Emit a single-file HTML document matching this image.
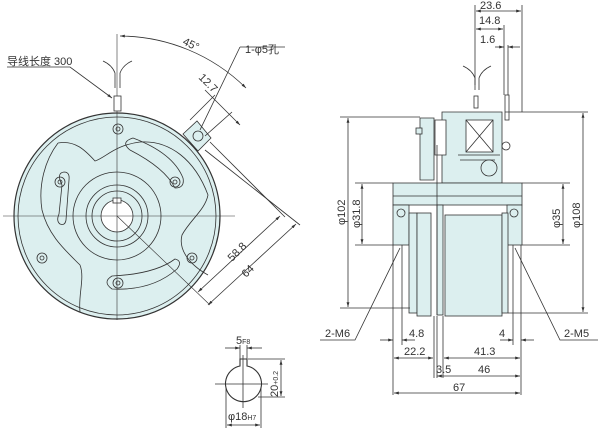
<!DOCTYPE html>
<html><head><meta charset="utf-8"><style>
html,body{margin:0;padding:0;background:#fff;}
svg{display:block;}
text{font-family:"Liberation Sans","Noto Sans CJK SC",sans-serif;fill:#333;font-size:11px;}
</style></head><body>
<svg width="600" height="432" viewBox="0 0 600 432" xmlns="http://www.w3.org/2000/svg">
<defs>
<marker id="a" viewBox="0 0 10 10" refX="10" refY="5" markerWidth="6" markerHeight="6" orient="auto-start-reverse"><path d="M0,2 L10,5 L0,8z" fill="#333"/></marker>
</defs>
<g stroke="#333" stroke-width="0.8" fill="none">
<!-- LEFT VIEW -->
<path d="M183,134 L197,121 L211,138 L198,151z" fill="#dcefef"/>
<circle cx="117" cy="216" r="103" fill="#dcefef" stroke-width="1.2"/>
<circle cx="117" cy="216" r="99"/>
<circle cx="198" cy="136" r="5" fill="#dcefef"/>
<path d="M58,143 C75,140 85,150 95,161 C105,158 115,145 140,142 C170,140 195,160 208,195 C205,210 190,220 182,235 C178,250 190,265 208,275 M80,312 C78,295 85,278 80,265 C65,250 48,235 42,210 C38,185 45,160 58,143"/>
<circle cx="117" cy="216" r="44"/>
<circle cx="117" cy="216" r="31"/>
<circle cx="117" cy="216" r="25"/>
<circle cx="117" cy="216" r="16" fill="#fff"/>
<rect x="113" y="198" width="8" height="5" fill="#fff"/>
<path d="M62,185 q-6,-12 2,-13 q6,0 5,8 l-3,40 q-1,6 -6,4 q-4,-3 -1,-10z"/>
<path d="M112,276 q-10,6 0,13 q40,2 65,-20 q6,-8 -2,-10 q-20,15 -63,17z"/>
<path d="M130,150 q-10,-8 3,-12 q40,15 50,40 q2,10 -8,10 q-10,-20 -45,-38z"/>
<circle cx="118" cy="129" r="5"/><circle cx="118" cy="129" r="2"/>
<circle cx="60" cy="182" r="5"/><circle cx="60" cy="182" r="2"/>
<circle cx="175" cy="182" r="5"/><circle cx="175" cy="182" r="2"/>
<circle cx="42" cy="258" r="5"/><circle cx="42" cy="258" r="2"/>
<circle cx="192" cy="258" r="5"/><circle cx="192" cy="258" r="2"/>
<circle cx="118" cy="283" r="5"/><circle cx="118" cy="283" r="2"/>
<line x1="3" y1="216" x2="235" y2="216" stroke-width="0.6"/>
<line x1="117" y1="34" x2="117" y2="320" stroke-width="0.6"/>
<line x1="117" y1="216" x2="210" y2="305" stroke-width="0.6"/>
<rect x="114" y="96" width="7" height="15" fill="#fff"/>
<path d="M115,88 v-15 q-3,-8 -12,-12 M120,88 v-15 q3,-8 12,-12"/>
<path d="M7,67 H70 L112,98" marker-end="url(#a)"/>
<path d="M120,36 A181,181 0 0 1 246,88" marker-start="url(#a)" marker-end="url(#a)"/>
<path d="M240,47 H285 M240,47 L200,130"/>
<line x1="190" y1="120" x2="215" y2="95"/><line x1="205" y1="136" x2="232" y2="112"/>
<path d="M205,90 L240,125" marker-end="url(#a)"/>
<line x1="210" y1="142" x2="285" y2="217"/><line x1="205" y1="150" x2="300" y2="225"/>
<line x1="198" y1="292" x2="280" y2="216" marker-start="url(#a)" marker-end="url(#a)"/>
<line x1="208" y1="305" x2="296" y2="224" marker-start="url(#a)" marker-end="url(#a)"/>
<!-- RIGHT VIEW -->
<path d="M442,112 H502 V183 H442z" fill="#dcefef"/>
<path d="M420,118 H434 V180 H420z" fill="#dcefef"/>
<path d="M435,120 H446 V155 H435z" fill="#fff"/>
<rect x="466" y="120" width="27" height="32" fill="#fff"/>
<path d="M466,120 L493,152 M493,120 L466,152"/>
<path d="M458,155 H500 M460,160 H495"/>
<circle cx="489" cy="168" r="8" fill="#dcefef"/>
<circle cx="506" cy="146" r="4"/>
<rect x="393" y="183" width="129" height="22" fill="#dcefef"/>
<line x1="393" y1="196" x2="522" y2="196"/>
<rect x="393" y="205" width="16" height="40" fill="#dcefef"/>
<rect x="507" y="205" width="15" height="40" fill="#dcefef"/>
<rect x="409" y="213" width="8" height="100" fill="#dcefef"/>
<rect x="417" y="213" width="14" height="103" fill="#dcefef"/>
<rect x="437" y="205" width="6" height="110" fill="#dcefef"/>
<rect x="445" y="215" width="57" height="101" fill="#dcefef"/>
<rect x="502" y="213" width="6" height="100" fill="#dcefef"/>
<circle cx="401" cy="213" r="4"/><circle cx="514" cy="213" r="4"/>
<line x1="437" y1="145" x2="437" y2="315"/>
<rect x="416" y="128" width="6" height="6" fill="#dcefef"/>
<rect x="505" y="95" width="4" height="25" fill="#fff"/>
<rect x="474" y="96" width="4" height="12" fill="#fff"/>
<path d="M475,90 v-12 q-3,-8 -12,-12 M479,90 v-12 q3,-8 12,-12"/>
<line x1="475" y1="5" x2="475" y2="85"/><line x1="522" y1="5" x2="522" y2="112"/><line x1="504" y1="25" x2="504" y2="95"/><line x1="508" y1="45" x2="508" y2="95"/>
<line x1="476" y1="11" x2="521" y2="11" marker-start="url(#a)" marker-end="url(#a)"/>
<line x1="476" y1="29" x2="503" y2="29" marker-start="url(#a)" marker-end="url(#a)"/>
<line x1="495" y1="47" x2="504" y2="47" marker-end="url(#a)"/><line x1="508" y1="47" x2="520" y2="47" marker-start="url(#a)"/>
<line x1="340" y1="117" x2="420" y2="117"/><line x1="340" y1="308" x2="410" y2="308"/>
<line x1="348" y1="118" x2="348" y2="307" marker-start="url(#a)" marker-end="url(#a)"/>
<line x1="355" y1="183" x2="393" y2="183"/><line x1="355" y1="245" x2="393" y2="245"/>
<line x1="362" y1="184" x2="362" y2="244" marker-start="url(#a)" marker-end="url(#a)"/>
<line x1="522" y1="183" x2="570" y2="183"/><line x1="522" y1="245" x2="570" y2="245"/>
<line x1="563" y1="184" x2="563" y2="244" marker-start="url(#a)" marker-end="url(#a)"/>
<line x1="505" y1="112" x2="588" y2="112"/><line x1="508" y1="313" x2="588" y2="313"/>
<line x1="583" y1="113" x2="583" y2="312" marker-start="url(#a)" marker-end="url(#a)"/>
<path d="M320,340 H355 L400,248" /><path d="M598,340 H560 L515,248"/>
<line x1="393" y1="245" x2="393" y2="395"/><line x1="402" y1="245" x2="402" y2="345"/>
<line x1="434" y1="316" x2="434" y2="378"/><line x1="437" y1="316" x2="437" y2="378"/><line x1="443" y1="316" x2="443" y2="378"/>
<line x1="513" y1="245" x2="513" y2="345"/><line x1="521" y1="245" x2="521" y2="395"/>
<line x1="380" y1="340" x2="393" y2="340" marker-end="url(#a)"/><line x1="402" y1="340" x2="415" y2="340" marker-start="url(#a)"/>
<line x1="500" y1="340" x2="513" y2="340" marker-end="url(#a)"/><line x1="521" y1="340" x2="534" y2="340" marker-start="url(#a)"/>
<line x1="394" y1="358" x2="433" y2="358" marker-start="url(#a)" marker-end="url(#a)"/>
<line x1="444" y1="358" x2="520" y2="358" marker-start="url(#a)" marker-end="url(#a)"/>
<line x1="437" y1="376" x2="520" y2="376" marker-start="url(#a)" marker-end="url(#a)"/>
<line x1="394" y1="393" x2="520" y2="393" marker-start="url(#a)" marker-end="url(#a)"/>
<!-- KEY VIEW -->
<path d="M240,366 A18,18 0 1 0 247,366 V359 H240z" fill="#fff" stroke-width="1.1"/>
<line x1="215" y1="384" x2="268" y2="384"/><line x1="243" y1="355" x2="243" y2="408"/>
<line x1="240" y1="345" x2="240" y2="360"/><line x1="247" y1="345" x2="247" y2="360"/>
<line x1="225" y1="348" x2="240" y2="348" marker-end="url(#a)"/><line x1="247" y1="348" x2="262" y2="348" marker-start="url(#a)"/>
<line x1="248" y1="359" x2="285" y2="359"/><line x1="258" y1="397" x2="285" y2="397"/>
<line x1="281" y1="360" x2="281" y2="396" marker-start="url(#a)" marker-end="url(#a)"/>
<line x1="226" y1="388" x2="226" y2="428"/><line x1="261" y1="388" x2="261" y2="428"/>
<line x1="227" y1="425" x2="260" y2="425" marker-start="url(#a)" marker-end="url(#a)"/>
</g>
<text x="7" y="65">导线长度 300</text>
<text x="182" y="44" transform="rotate(25 182 44)">45°</text>
<text x="245" y="53">1-φ5孔</text>
<text x="198" y="78" transform="rotate(45 198 78)">12.7</text>
<text x="232" y="262" transform="rotate(-45 232 262)">58.8</text>
<text x="246" y="278" transform="rotate(-45 246 278)">64</text>
<text x="480" y="9">23.6</text>
<text x="479" y="24">14.8</text>
<text x="480" y="43">1.6</text>
<text x="345" y="225" transform="rotate(-90 345 225)">φ102</text>
<text x="360" y="228" transform="rotate(-90 360 228)">φ31.8</text>
<text x="560" y="228" transform="rotate(-90 560 228)">φ35</text>
<text x="580" y="228" transform="rotate(-90 580 228)">φ108</text>
<text x="325" y="337">2-M6</text>
<text x="564" y="337">2-M5</text>
<text x="409" y="337">4.8</text>
<text x="499" y="337">4</text>
<text x="404" y="355">22.2</text>
<text x="474" y="355">41.3</text>
<text x="436" y="373">3.5</text>
<text x="478" y="373">46</text>
<text x="453" y="391">67</text>
<text x="236" y="344">5<tspan font-size="7">F8</tspan></text>
<text x="278" y="397" transform="rotate(-90 278 397)">20<tspan font-size="7">+0.2</tspan></text>
<text x="228" y="420">φ18<tspan font-size="7">H7</tspan></text>
</svg>
</body></html>
